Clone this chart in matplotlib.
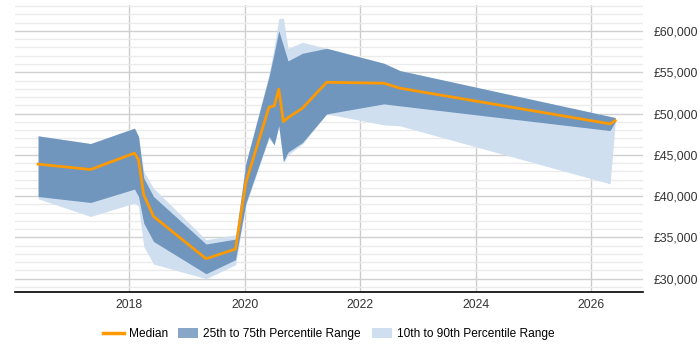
import matplotlib
matplotlib.use("Agg")
import matplotlib.pyplot as plt
from matplotlib.lines import Line2D
from matplotlib.patches import Patch
from matplotlib.ticker import FuncFormatter, MultipleLocator

plt.rcParams["font.family"] = ["Liberation Sans", "DejaVu Sans"]

# decimal years and salary percentiles
years = [2016.42, 2017.33, 2018.09, 2018.16, 2018.25, 2018.42, 2019.33, 2019.84,
         2020.02, 2020.42, 2020.51, 2020.59, 2020.67, 2020.75, 2021.0, 2021.42,
         2022.41, 2022.69, 2026.33, 2026.42]
p10 = [39680, 37540, 39150, 38800, 33910, 31780, 30000, 31690,
       38900, 47000, 46210, 48510, 44000, 45000, 46300, 49960,
       48630, 48510, 41490, 49030]
p25 = [39955, 39230, 40850, 39955, 36740, 34510, 30600, 32300,
       39150, 47215, 46210, 48510, 44190, 45330, 46490, 49960,
       51170, 50930, 47940, 49030]
median = [43875, 43222, 45205, 44395, 40160, 37540, 32420, 33590,
          41650, 50770, 50930, 52950, 49030, 49500, 50650, 53790,
          53670, 53070, 48750, 49150]
p75 = [47300, 46367, 48230, 47215, 42200, 39955, 34200, 34800,
       44000, 54470, 57300, 60040, 58200, 56370, 57300, 57900,
       56090, 55200, 49650, 49510]
p90 = [47300, 46367, 48230, 47215, 42980, 40970, 34720, 35320,
       44000, 54700, 58000, 61530, 61530, 57900, 58630, 57900,
       56090, 55200, 49650, 49510]

year_ticks = [2018, 2020, 2022, 2024, 2026]

fig = plt.figure(figsize=(7, 3.5), dpi=100)
ax = fig.add_axes([15 / 700, 1 - 292 / 350, 628 / 700, 287 / 350])

ax.fill_between(years, p10, p90, color="#cfdff0", linewidth=0, zorder=2)
ax.fill_between(years, p25, p75, color="#7096be", linewidth=0, zorder=3)
ax.plot(years, median, color="#ff9900", linewidth=2, zorder=4)

ax.set_xlim(2016.02, 2026.9)
ax.set_ylim(28390, 63145)
ax.set_xticks(year_ticks)
ax.set_xticklabels([str(y) for y in year_ticks])
ax.yaxis.set_major_locator(MultipleLocator(5000))
ax.yaxis.set_minor_locator(MultipleLocator(1000))
ax.yaxis.set_major_formatter(FuncFormatter(lambda v, p: "£{:,.0f}".format(v)))
ax.yaxis.tick_right()

ax.grid(axis="y", which="major", color="#d0d0d0", linewidth=1, zorder=0)
ax.grid(axis="y", which="minor", color="#ebebeb", linewidth=1, zorder=0)
ax.grid(axis="x", which="major", color="#cccccc", linewidth=1, zorder=0)
ax.set_axisbelow(True)

for side in ["top", "left", "right"]:
    ax.spines[side].set_visible(False)
ax.spines["bottom"].set_color("#000000")
ax.spines["bottom"].set_linewidth(1.2)

ax.tick_params(axis="y", which="both", length=0, pad=8, labelsize=8.8, labelcolor="#333333")
ax.tick_params(axis="x", which="both", length=0, pad=5, labelsize=8.8, labelcolor="#333333")

handles = [
    Line2D([0], [0], color="#ff9900", linewidth=2.5),
    Patch(facecolor="#88a6c8", edgecolor="none"),
    Patch(facecolor="#cfdff0", edgecolor="none"),
]
labels = ["Median", "25th to 75th Percentile Range", "10th to 90th Percentile Range"]
fig.legend(handles, labels, loc="center", bbox_to_anchor=(329 / 700, 1 - 334 / 350),
           ncol=3, frameon=False, fontsize=8.6, handlelength=1.68, handleheight=1.0,
           handletextpad=0.42, columnspacing=0.9)

fig.savefig("out.png", dpi=100)
